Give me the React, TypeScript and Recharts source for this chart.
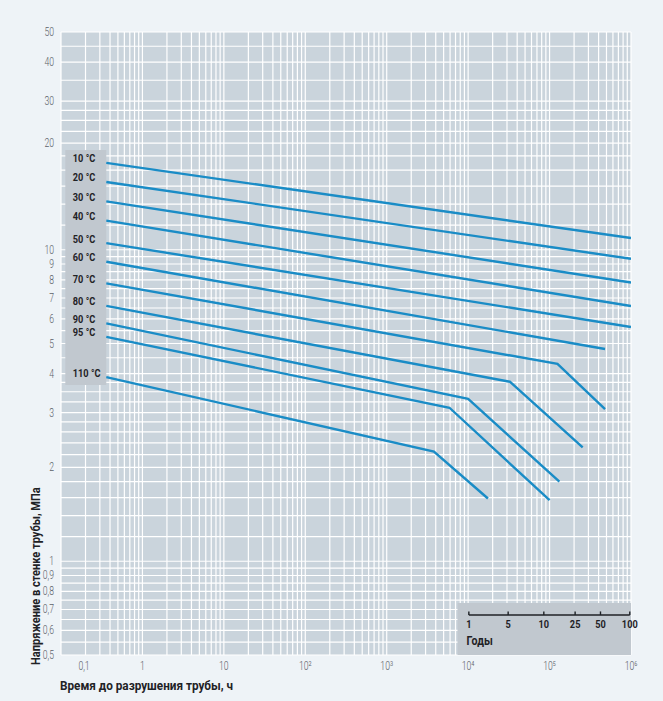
import React from "react";
import {
  LineChart,
  Line,
  XAxis,
  YAxis,
  CartesianGrid,
  ReferenceArea,
  ReferenceLine,
  ReferenceDot,
  Label,
} from "recharts";

// temperature curves: time to failure (h) vs. hoop stress (MPa)
const temps = ["10 °C", "20 °C", "30 °C", "40 °C", "50 °C", "60 °C", "70 °C", "80 °C", "90 °C", "95 °C", "110 °C"];

const hours = [
  [0.36, 1e6],
  [0.36, 1e6],
  [0.36, 1e6],
  [0.36, 1e6],
  [0.36, 1e6],
  [0.36, 4.8e5],
  [0.36, 1.25e5, 4.8e5],
  [0.36, 3.25e4, 2.55e5],
  [0.36, 1.0e4, 1.32e5],
  [0.36, 5.9e3, 1.0e5],
  [0.36, 3.8e3, 1.75e4],
];

const stress = [
  [19.0, 10.9],
  [16.5, 9.35],
  [14.3, 7.85],
  [12.4, 6.6],
  [10.5, 5.65],
  [9.15, 4.8],
  [7.8, 4.3, 3.08],
  [6.6, 3.77, 2.32],
  [5.8, 3.32, 1.8],
  [5.25, 3.11, 1.57],
  [3.9, 2.25, 1.59],
];

const xDecades = [0.1, 1, 10, 100, 1e3, 1e4, 1e5, 1e6];
const xTickLabels = ["0,1", "1", "10", "10²", "10³", "10⁴", "10⁵", "10⁶"];

const yLabelValues = [0.5, 0.6, 0.7, 0.8, 0.9, 1, 2, 3, 4, 5, 6, 7, 8, 9, 10, 20, 30, 40, 50];
const yTickLabels = ["0,5", "0,6", "0,7", "0,8", "0,9", "1", "2", "3", "4", "5", "6", "7", "8", "9", "10", "20", "30", "40", "50"];

// scale of years (positions, in hours)
const yearLabels = ["1", "5", "10", "25", "50", "100"];
const yearHours = [1.02e4, 3.1e4, 8.5e4, 2.06e5, 4.22e5, 9.66e5];

// log-paper grid
const xGrid = xDecades
  .slice(0, -1)
  .flatMap((d) => [1, 2, 3, 4, 5, 6, 7, 8, 9].map((k) => +(k * d).toPrecision(3)))
  .concat([1e6]);

const yGridSteps = [
  [0.5, 1, 0.05],
  [1, 3, 0.2],
  [3, 4, 0.25],
  [4, 10, 0.5],
  [10, 30, 2],
  [30, 50, 5],
];
const yGrid: number[] = [];
yGridSteps.forEach(([a, b, s]) => {
  for (let v = a; v < b - 1e-9; v += s) yGrid.push(+v.toFixed(3));
});
yGrid.push(50);

const seriesData = temps.map((_, i) => hours[i].map((h, j) => ({ t: h, s: stress[i][j] })));

const FONT = "Roboto, 'Noto Sans', sans-serif";
const BLUE = "#1a8cc6";
const BOX = "#c1c8cf";
const INK = "#1f2226";
const TICK = "#5b6168";

const same = (a: number, b: number) => Math.abs(a - b) / b < 1e-6;

// condensed text: the original uses a narrow DIN-like face, so squeeze Roboto horizontally
const CText = ({ x, y, k = 0.8, anchor = "start", size = 12, weight = 400, fill = INK, rotate = false, children }: any) => (
  <text
    transform={`translate(${x},${y})${rotate ? " rotate(-90)" : ""} scale(${k},1)`}
    textAnchor={anchor}
    fontSize={size}
    fontWeight={weight}
    fill={fill}
    fontFamily={FONT}
  >
    {children}
  </text>
);

const XTick = (props: any) => {
  const { x, y, payload } = props;
  const i = xDecades.findIndex((d) => same(d, payload.value));
  if (i < 0) return <g />;
  // the "0,1" label sits a bit to the right of the left edge in the original
  const dx = i === 0 ? 23 : 0;
  return (
    <CText x={x + dx} y={y + 7} anchor="middle" k={0.72} size={12} weight={300} fill={TICK}>
      {xTickLabels[i]}
    </CText>
  );
};

const YTick = (props: any) => {
  const { x, y, payload } = props;
  const i = yLabelValues.findIndex((d) => same(d, payload.value));
  if (i < 0) return <g />;
  const dy = yTickLabels[i] === "20" ? -13 : 0;
  return (
    <CText x={x + 1} y={y + 4 + dy} anchor="end" k={0.72} size={12} weight={300} fill={TICK}>
      {yTickLabels[i]}
    </CText>
  );
};

const YTitle = (props: any) => {
  const { viewBox } = props;
  return (
    <CText x={viewBox.x + 40} y={viewBox.y + viewBox.height + 10} rotate k={0.82} size={13.5} weight={700}>
      Напряжение в стенке трубы, МПа
    </CText>
  );
};

const XTitle = (props: any) => {
  const { viewBox } = props;
  return (
    <CText x={viewBox.x - 1} y={viewBox.y + 35} k={0.87} size={13.5} weight={700}>
      Время до разрушения трубы, ч
    </CText>
  );
};

const YearsTitle = (props: any) => {
  const { viewBox } = props;
  return (
    <CText x={viewBox.x + 9} y={viewBox.y + viewBox.height - 10} k={0.82} size={13} weight={700}>
      Годы
    </CText>
  );
};

export default function App() {
  return (
    <div style={{ position: "absolute", left: 0, top: 0, width: 663, height: 701, background: "#eef3f7" }}>
      <LineChart width={663} height={701} margin={{ top: 32, right: 32, left: 0, bottom: 0 }}>
        <CartesianGrid stroke="#ffffff" strokeWidth={1.2} fill="#cad4dc" fillOpacity={1} />
        <XAxis
          dataKey="t"
          type="number"
          scale="log"
          domain={[0.1, 1e6]}
          ticks={xGrid}
          interval={0}
          tick={XTick}
          tickLine={false}
          axisLine={false}
          height={46}
          allowDataOverflow
        >
          <Label content={XTitle} />
        </XAxis>
        <YAxis
          type="number"
          scale="log"
          domain={[0.5, 50]}
          ticks={yGrid}
          interval={0}
          tick={YTick}
          tickLine={false}
          axisLine={false}
          width={61}
          allowDataOverflow
        >
          <Label content={YTitle} />
        </YAxis>

        <ReferenceArea x1={0.113} x2={0.36} y1={3.68} y2={20.9} fill={BOX} fillOpacity={1} stroke="none" />
        <ReferenceArea x1={7400} x2={1e6} y1={0.5} y2={0.735} fill={BOX} fillOpacity={1} stroke="none">
          <Label content={YearsTitle} />
        </ReferenceArea>
        <ReferenceLine
          segment={[
            { x: yearHours[0], y: 0.672 },
            { x: yearHours[yearHours.length - 1], y: 0.672 },
          ]}
          stroke={INK}
          strokeWidth={1.4}
        />
        {yearHours.map((h) => (
          <ReferenceLine
            key={`yt-${h}`}
            segment={[
              { x: h, y: 0.672 },
              { x: h, y: 0.69 },
            ]}
            stroke={INK}
            strokeWidth={1.4}
          />
        ))}
        {yearHours.map((h, i) => (
          <ReferenceDot
            key={`yl-${h}`}
            x={h}
            y={0.672}
            r={0}
            fill="none"
            stroke="none"
            label={(p: any) => (
              <CText x={p.viewBox.x + (p.viewBox.width || 0) / 2} y={p.viewBox.y + 13} anchor="middle" k={0.8} size={11.5} weight={700}>
                {yearLabels[i]}
              </CText>
            )}
          />
        ))}

        {seriesData.map((d, i) => (
          <Line
            key={temps[i]}
            data={d}
            dataKey="s"
            type="linear"
            stroke={BLUE}
            strokeWidth={2.4}
            dot={false}
            isAnimationActive={false}
            label={(p: any) =>
              p.index === 0 ? (
                <CText key="lbl" x={p.x - 33.5} y={p.y - 0.5} k={0.8} size={11.5} weight={700}>
                  {temps[i]}
                </CText>
              ) : (
                <g key={`n${p.index}`} />
              )
            }
          />
        ))}
      </LineChart>
    </div>
  );
}
